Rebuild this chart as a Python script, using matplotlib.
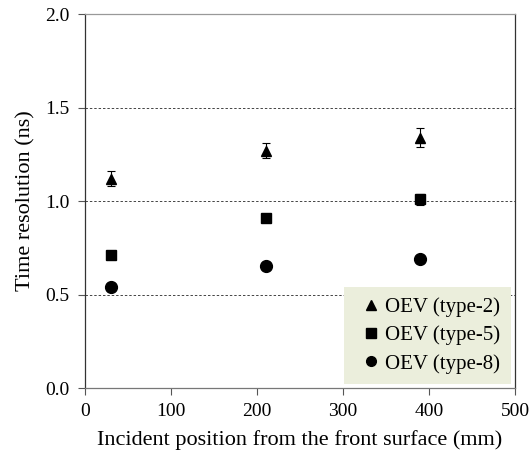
import matplotlib.pyplot as plt
from matplotlib.lines import Line2D
import numpy as np

plt.rcParams['font.family'] = ['Liberation Serif', 'DejaVu Serif']

# incident position (mm)
pos = [30, 210, 390]
# time resolution (ns) and errors
type2 = [1.12, 1.27, 1.34]
type2_err = [0.04, 0.04, 0.05]
type5 = [0.71, 0.91, 1.01]
type5_err = [0.01, 0.02, 0.03]
type8 = [0.54, 0.655, 0.69]
type8_err = [0.01, 0.02, 0.01]
labels = ['OEV (type-2)', 'OEV (type-5)', 'OEV (type-8)']

fig = plt.figure(figsize=(5.32, 4.55), dpi=100)
ax = fig.add_axes([0.160, 0.147, 0.808, 0.822])

for y in [0.5, 1.0, 1.5]:
    ax.axhline(y, color='#444444', ls=(0, (2.5, 2)), lw=0.7, zorder=0)

kw = dict(color='black', ls='none', capsize=3, elinewidth=0.8, capthick=0.8)
ax.errorbar(pos, type2, yerr=type2_err, marker='^', ms=7.5, **kw)
ax.errorbar(pos, type5, yerr=type5_err, marker='s', ms=7.5, **kw)
ax.errorbar(pos, type8, yerr=type8_err, marker='o', ms=8.5, **kw)

ax.set_xlim(0, 500)
ax.set_ylim(0, 2.0)
ax.set_xticks(np.arange(0, 501, 100))
ax.set_yticks([0.0, 0.5, 1.0, 1.5, 2.0])
ax.yaxis.set_major_formatter(plt.FormatStrFormatter('%.1f'))
ax.tick_params(direction='out', length=5, width=0.8, labelsize=14, color='#555555', pad=6)

ax.spines['top'].set_color('#999999')
ax.spines['bottom'].set_color('#777777')
ax.spines['left'].set_color('#333333')
ax.spines['right'].set_color('#333333')
for s in ax.spines.values():
    s.set_linewidth(0.9)

ax.set_xlabel('Incident position from the front surface (mm)', fontsize=16, labelpad=7)
ax.set_ylabel('Time resolution (ns)', fontsize=16, labelpad=7)

handles = [Line2D([], [], color='black', ls='none', marker=m, ms=s)
           for m, s in zip(['^', 's', 'o'], [6.5, 6.5, 7])]
leg = ax.legend(handles, labels, loc='lower right', fontsize=15, frameon=True, fancybox=False,
                handletextpad=-0.1, handlelength=1.6, borderpad=0.5, labelspacing=0.4,
                borderaxespad=0.2)
leg.get_frame().set_facecolor('#ebeedc')
leg.get_frame().set_edgecolor('none')
leg.get_frame().set_alpha(1)

plt.savefig('out.png', dpi=100)
